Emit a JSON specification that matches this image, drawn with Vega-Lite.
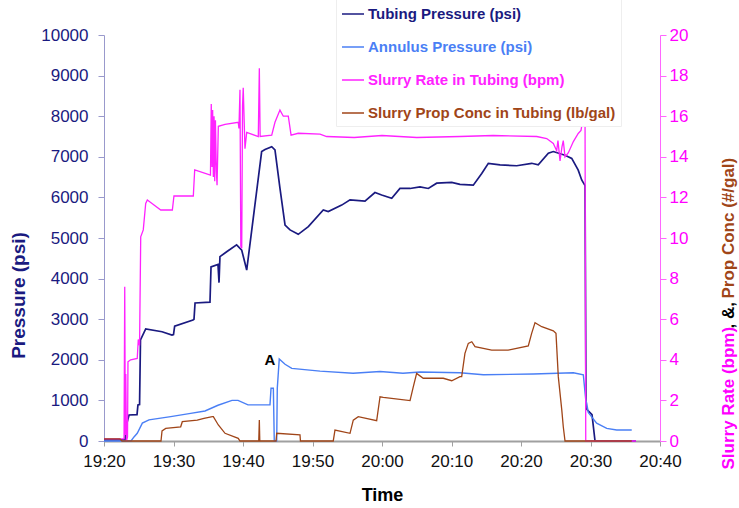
{
  "$schema": "https://vega.github.io/schema/vega-lite/v6.json",
  "width": 556,
  "height": 406,
  "autosize": {"type": "none"},
  "padding": {"left": 104, "top": 35, "right": 79, "bottom": 67},
  "background": "white",
  "config": {"view": {"stroke": null}, "font": "Liberation Sans", "axis": {"grid": false}},
  "layer": [
    {
      "data": {"values": [
        {"t": "2000-01-01T19:20:00", "v": 30}, {"t": "2000-01-01T19:23:01", "v": 30}, {"t": "2000-01-01T19:23:14", "v": 400}, {"t": "2000-01-01T19:23:36", "v": 640},
        {"t": "2000-01-01T19:24:45", "v": 650}, {"t": "2000-01-01T19:24:53", "v": 890}, {"t": "2000-01-01T19:25:07", "v": 900}, {"t": "2000-01-01T19:25:15", "v": 2490},
        {"t": "2000-01-01T19:26:00", "v": 2760}, {"t": "2000-01-01T19:28:21", "v": 2690}, {"t": "2000-01-01T19:29:47", "v": 2610}, {"t": "2000-01-01T19:30:00", "v": 2620},
        {"t": "2000-01-01T19:30:10", "v": 2830}, {"t": "2000-01-01T19:32:48", "v": 2980}, {"t": "2000-01-01T19:32:57", "v": 3000}, {"t": "2000-01-01T19:33:06", "v": 3400},
        {"t": "2000-01-01T19:35:15", "v": 3420}, {"t": "2000-01-01T19:35:24", "v": 4290}, {"t": "2000-01-01T19:36:24", "v": 4350}, {"t": "2000-01-01T19:36:33", "v": 3900},
        {"t": "2000-01-01T19:36:41", "v": 4540}, {"t": "2000-01-01T19:37:39", "v": 4660}, {"t": "2000-01-01T19:39:05", "v": 4830}, {"t": "2000-01-01T19:39:49", "v": 4700},
        {"t": "2000-01-01T19:40:32", "v": 4210}, {"t": "2000-01-01T19:42:41", "v": 7130}, {"t": "2000-01-01T19:43:10", "v": 7180}, {"t": "2000-01-01T19:44:08", "v": 7250},
        {"t": "2000-01-01T19:44:36", "v": 7170}, {"t": "2000-01-01T19:45:19", "v": 6230}, {"t": "2000-01-01T19:46:03", "v": 5320}, {"t": "2000-01-01T19:46:46", "v": 5200},
        {"t": "2000-01-01T19:47:57", "v": 5090}, {"t": "2000-01-01T19:49:24", "v": 5280}, {"t": "2000-01-01T19:51:33", "v": 5690}, {"t": "2000-01-01T19:52:16", "v": 5650},
        {"t": "2000-01-01T19:54:12", "v": 5810}, {"t": "2000-01-01T19:55:24", "v": 5940}, {"t": "2000-01-01T19:57:33", "v": 5910}, {"t": "2000-01-01T19:58:59", "v": 6120},
        {"t": "2000-01-01T19:59:57", "v": 6060}, {"t": "2000-01-01T20:01:24", "v": 5980}, {"t": "2000-01-01T20:02:35", "v": 6220}, {"t": "2000-01-01T20:04:02", "v": 6220},
        {"t": "2000-01-01T20:05:28", "v": 6260}, {"t": "2000-01-01T20:06:40", "v": 6220}, {"t": "2000-01-01T20:07:52", "v": 6350}, {"t": "2000-01-01T20:10:02", "v": 6370},
        {"t": "2000-01-01T20:11:13", "v": 6320}, {"t": "2000-01-01T20:13:08", "v": 6300}, {"t": "2000-01-01T20:14:21", "v": 6590}, {"t": "2000-01-01T20:15:18", "v": 6840},
        {"t": "2000-01-01T20:16:59", "v": 6800}, {"t": "2000-01-01T20:19:23", "v": 6780}, {"t": "2000-01-01T20:21:32", "v": 6840}, {"t": "2000-01-01T20:22:29", "v": 6800},
        {"t": "2000-01-01T20:23:56", "v": 7090}, {"t": "2000-01-01T20:24:39", "v": 7130}, {"t": "2000-01-01T20:26:20", "v": 7040}, {"t": "2000-01-01T20:27:18", "v": 6960},
        {"t": "2000-01-01T20:28:14", "v": 6670}, {"t": "2000-01-01T20:28:44", "v": 6430}, {"t": "2000-01-01T20:29:13", "v": 6290}, {"t": "2000-01-01T20:29:21", "v": 800},
        {"t": "2000-01-01T20:30:13", "v": 650}, {"t": "2000-01-01T20:30:39", "v": 0}, {"t": "2000-01-01T20:36:33", "v": 0}
      ]},
      "mark": {"type": "line", "strokeWidth": 1.7},
      "encoding": {
        "x": {
          "field": "t", "type": "temporal",
          "scale": {"domain": [{"year": 2000, "month": 1, "date": 1, "hours": 19, "minutes": 20}, {"year": 2000, "month": 1, "date": 1, "hours": 20, "minutes": 40}]},
          "axis": {
            "format": "%H:%M",
            "values": [
              {"year": 2000, "month": 1, "date": 1, "hours": 19, "minutes": 20}, {"year": 2000, "month": 1, "date": 1, "hours": 19, "minutes": 30},
              {"year": 2000, "month": 1, "date": 1, "hours": 19, "minutes": 40}, {"year": 2000, "month": 1, "date": 1, "hours": 19, "minutes": 50},
              {"year": 2000, "month": 1, "date": 1, "hours": 20, "minutes": 0}, {"year": 2000, "month": 1, "date": 1, "hours": 20, "minutes": 10},
              {"year": 2000, "month": 1, "date": 1, "hours": 20, "minutes": 20}, {"year": 2000, "month": 1, "date": 1, "hours": 20, "minutes": 30},
              {"year": 2000, "month": 1, "date": 1, "hours": 20, "minutes": 40}
            ],
            "title": "Time", "titleFontSize": 18, "titleFontWeight": "bold", "titleColor": "#000000",
            "titlePadding": 17,
            "labelFontSize": 17, "labelColor": "#111111", "labelPadding": 7, "labelFlush": false, "labelOverlap": false,
            "tickSize": 5, "tickColor": "#a0a0a0", "domainColor": "#a0a0a0", "domainWidth": 2
          }
        },
        "y": {
          "field": "v", "type": "quantitative",
          "scale": {"domain": [0, 10000]},
          "axis": {
            "orient": "left", "values": [0, 1000, 2000, 3000, 4000, 5000, 6000, 7000, 8000, 9000, 10000], "format": "d",
            "title": "Pressure (psi)", "titleColor": "#1a1a80", "titleFontSize": 19, "titleFontWeight": "bold",
            "titleAngle": 270, "titleX": -86, "titleY": 260, "titleAlign": "center", "titleBaseline": "middle",
            "labelColor": "#1a1a80", "labelFontSize": 17, "labelPadding": 10,
            "tickSize": 6, "tickColor": "#9999cc", "domainColor": "#9999cc"
          }
        },
        "color": {
          "datum": "Tubing Pressure (psi)",
          "scale": {
            "domain": ["Tubing Pressure (psi)", "Annulus Pressure (psi)", "Slurry Rate in Tubing (bpm)", "Slurry Prop Conc in Tubing (lb/gal)"],
            "range": ["#1a1a80", "#4a7ff5", "#ff22ff", "#a04518"]
          },
          "legend": {
            "orient": "none", "legendX": 232, "legendY": -38, "title": null,
            "symbolType": "stroke", "symbolSize": 484, "symbolStrokeWidth": 1.5,
            "labelFontSize": 15, "labelFontWeight": "bold", "labelLimit": 400,
            "rowPadding": 13, "labelOffset": 3, "padding": 5,
            "fillColor": "white", "strokeColor": "#eeeeee",
            "encode": {"labels": {"update": {"fill": {"scale": "color", "field": "value"}}}}
          }
        }
      }
    },
    {
      "data": {"values": [
        {"t": "2000-01-01T19:20:00", "v": 0}, {"t": "2000-01-01T19:23:53", "v": 0}, {"t": "2000-01-01T19:24:19", "v": 100}, {"t": "2000-01-01T19:24:47", "v": 190},
        {"t": "2000-01-01T19:25:31", "v": 440}, {"t": "2000-01-01T19:26:28", "v": 520}, {"t": "2000-01-01T19:29:36", "v": 600}, {"t": "2000-01-01T19:32:28", "v": 680},
        {"t": "2000-01-01T19:34:32", "v": 740}, {"t": "2000-01-01T19:36:24", "v": 880}, {"t": "2000-01-01T19:38:25", "v": 1000}, {"t": "2000-01-01T19:39:17", "v": 1000},
        {"t": "2000-01-01T19:40:43", "v": 890}, {"t": "2000-01-01T19:43:53", "v": 890}, {"t": "2000-01-01T19:44:02", "v": 1300}, {"t": "2000-01-01T19:44:22", "v": 1300},
        {"t": "2000-01-01T19:44:30", "v": 0}, {"t": "2000-01-01T19:44:51", "v": 0}, {"t": "2000-01-01T19:44:56", "v": 1300}, {"t": "2000-01-01T19:45:13", "v": 2020},
        {"t": "2000-01-01T19:46:03", "v": 1890}, {"t": "2000-01-01T19:47:01", "v": 1790}, {"t": "2000-01-01T19:51:05", "v": 1720}, {"t": "2000-01-01T19:55:50", "v": 1670},
        {"t": "2000-01-01T19:59:43", "v": 1710}, {"t": "2000-01-01T20:03:01", "v": 1670}, {"t": "2000-01-01T20:05:28", "v": 1700}, {"t": "2000-01-01T20:11:13", "v": 1680},
        {"t": "2000-01-01T20:14:35", "v": 1630}, {"t": "2000-01-01T20:21:46", "v": 1650}, {"t": "2000-01-01T20:27:32", "v": 1680}, {"t": "2000-01-01T20:28:58", "v": 1630},
        {"t": "2000-01-01T20:29:19", "v": 1010}, {"t": "2000-01-01T20:29:27", "v": 930}, {"t": "2000-01-01T20:29:41", "v": 700}, {"t": "2000-01-01T20:30:53", "v": 440},
        {"t": "2000-01-01T20:32:20", "v": 310}, {"t": "2000-01-01T20:33:46", "v": 270}, {"t": "2000-01-01T20:35:56", "v": 270}
      ]},
      "mark": {"type": "line", "strokeWidth": 1.4},
      "encoding": {
        "x": {"field": "t", "type": "temporal"},
        "y": {
          "field": "v", "type": "quantitative",
          "scale": {"domain": [0, 10000]},
          "axis": {
            "orient": "right", "domain": false, "ticks": false, "labels": false,
            "title": ", &,", "titleColor": "#000000", "titleFontSize": 17, "titleFontWeight": "bold",
            "titleAngle": 270, "titleX": 68, "titleY": 293, "titleAlign": "left", "titleBaseline": "middle"
          }
        },
        "color": {"datum": "Annulus Pressure (psi)"}
      }
    },
    {
      "data": {"values": [
        {"t": "2000-01-01T19:20:00", "v": 0.1}, {"t": "2000-01-01T19:22:53", "v": 0.1}, {"t": "2000-01-01T19:22:59", "v": 7.6}, {"t": "2000-01-01T19:23:04", "v": 0.3},
        {"t": "2000-01-01T19:23:08", "v": 3.3}, {"t": "2000-01-01T19:23:14", "v": 0}, {"t": "2000-01-01T19:23:23", "v": 0.2}, {"t": "2000-01-01T19:23:27", "v": 3.9},
        {"t": "2000-01-01T19:23:50", "v": 4.0}, {"t": "2000-01-01T19:24:47", "v": 4.07}, {"t": "2000-01-01T19:24:56", "v": 5.0}, {"t": "2000-01-01T19:25:07", "v": 4.7},
        {"t": "2000-01-01T19:25:17", "v": 10.06}, {"t": "2000-01-01T19:25:39", "v": 10.4}, {"t": "2000-01-01T19:26:00", "v": 11.7}, {"t": "2000-01-01T19:26:14", "v": 11.87},
        {"t": "2000-01-01T19:27:12", "v": 11.63}, {"t": "2000-01-01T19:28:10", "v": 11.38}, {"t": "2000-01-01T19:29:50", "v": 11.38}, {"t": "2000-01-01T19:30:04", "v": 12.07},
        {"t": "2000-01-01T19:32:51", "v": 12.07}, {"t": "2000-01-01T19:33:03", "v": 13.35}, {"t": "2000-01-01T19:35:19", "v": 13.1}, {"t": "2000-01-01T19:35:26", "v": 16.6},
        {"t": "2000-01-01T19:35:32", "v": 13.5}, {"t": "2000-01-01T19:35:38", "v": 16.3}, {"t": "2000-01-01T19:35:44", "v": 13.0}, {"t": "2000-01-01T19:35:50", "v": 16.0},
        {"t": "2000-01-01T19:35:56", "v": 12.8}, {"t": "2000-01-01T19:36:02", "v": 15.8}, {"t": "2000-01-01T19:36:10", "v": 13.3}, {"t": "2000-01-01T19:36:16", "v": 12.6},
        {"t": "2000-01-01T19:36:27", "v": 15.5}, {"t": "2000-01-01T19:37:25", "v": 15.6}, {"t": "2000-01-01T19:39:19", "v": 15.7}, {"t": "2000-01-01T19:39:25", "v": 15.4},
        {"t": "2000-01-01T19:39:34", "v": 17.3}, {"t": "2000-01-01T19:39:41", "v": 9.6}, {"t": "2000-01-01T19:39:49", "v": 9.5}, {"t": "2000-01-01T19:39:56", "v": 16.5},
        {"t": "2000-01-01T19:40:02", "v": 17.4}, {"t": "2000-01-01T19:40:17", "v": 14.4}, {"t": "2000-01-01T19:40:32", "v": 15.2}, {"t": "2000-01-01T19:42:12", "v": 15.0},
        {"t": "2000-01-01T19:42:21", "v": 18.36}, {"t": "2000-01-01T19:42:28", "v": 15.0}, {"t": "2000-01-01T19:44:08", "v": 15.07}, {"t": "2000-01-01T19:44:36", "v": 15.7},
        {"t": "2000-01-01T19:45:19", "v": 16.3}, {"t": "2000-01-01T19:45:48", "v": 16.0}, {"t": "2000-01-01T19:46:31", "v": 16.0}, {"t": "2000-01-01T19:46:55", "v": 15.07},
        {"t": "2000-01-01T19:47:57", "v": 15.16}, {"t": "2000-01-01T19:51:05", "v": 15.12}, {"t": "2000-01-01T19:52:02", "v": 15.0}, {"t": "2000-01-01T19:56:00", "v": 14.95},
        {"t": "2000-01-01T20:00:00", "v": 15.05}, {"t": "2000-01-01T20:05:00", "v": 14.95}, {"t": "2000-01-01T20:11:13", "v": 15.0}, {"t": "2000-01-01T20:16:00", "v": 15.05},
        {"t": "2000-01-01T20:22:16", "v": 15.0}, {"t": "2000-01-01T20:23:42", "v": 14.9}, {"t": "2000-01-01T20:24:39", "v": 14.66}, {"t": "2000-01-01T20:25:08", "v": 14.3},
        {"t": "2000-01-01T20:25:19", "v": 14.8}, {"t": "2000-01-01T20:25:37", "v": 13.8}, {"t": "2000-01-01T20:25:54", "v": 14.5}, {"t": "2000-01-01T20:26:05", "v": 14.8},
        {"t": "2000-01-01T20:26:20", "v": 14.0}, {"t": "2000-01-01T20:26:49", "v": 14.2}, {"t": "2000-01-01T20:27:32", "v": 14.75}, {"t": "2000-01-01T20:28:14", "v": 15.15},
        {"t": "2000-01-01T20:28:38", "v": 15.3}, {"t": "2000-01-01T20:28:44", "v": 15.5}, {"t": "2000-01-01T20:29:13", "v": 15.5}, {"t": "2000-01-01T20:29:19", "v": 0},
        {"t": "2000-01-01T20:36:33", "v": 0}
      ]},
      "mark": {"type": "line", "strokeWidth": 1.3},
      "encoding": {
        "x": {"field": "t", "type": "temporal"},
        "y": {
          "field": "v", "type": "quantitative",
          "scale": {"domain": [0, 20]},
          "axis": {
            "orient": "right", "values": [0, 2, 4, 6, 8, 10, 12, 14, 16, 18, 20],
            "title": "Slurry Rate (bpm)", "titleColor": "#ff00ff", "titleFontSize": 17, "titleFontWeight": "bold",
            "titleAngle": 270, "titleX": 68, "titleY": 434, "titleAlign": "left", "titleBaseline": "middle",
            "labelColor": "#ff00ff", "labelFontSize": 17, "labelPadding": 3,
            "tickSize": 6, "tickColor": "#ff66ff", "domainColor": "#ff66ff"
          }
        },
        "color": {"datum": "Slurry Rate in Tubing (bpm)"}
      }
    },
    {
      "data": {"values": [
        {"t": "2000-01-01T19:20:00", "v": 0.1}, {"t": "2000-01-01T19:22:18", "v": 0.1}, {"t": "2000-01-01T19:22:35", "v": 0}, {"t": "2000-01-01T19:28:12", "v": 0},
        {"t": "2000-01-01T19:28:21", "v": 0.5}, {"t": "2000-01-01T19:28:53", "v": 0.62}, {"t": "2000-01-01T19:31:02", "v": 0.7}, {"t": "2000-01-01T19:31:16", "v": 0.95},
        {"t": "2000-01-01T19:33:25", "v": 1.03}, {"t": "2000-01-01T19:34:23", "v": 1.12}, {"t": "2000-01-01T19:35:35", "v": 1.2}, {"t": "2000-01-01T19:35:44", "v": 1.2},
        {"t": "2000-01-01T19:36:27", "v": 0.79}, {"t": "2000-01-01T19:37:25", "v": 0.38}, {"t": "2000-01-01T19:39:19", "v": 0.13}, {"t": "2000-01-01T19:39:34", "v": 0},
        {"t": "2000-01-01T19:42:16", "v": 0}, {"t": "2000-01-01T19:42:21", "v": 1.03}, {"t": "2000-01-01T19:42:25", "v": 0}, {"t": "2000-01-01T19:44:45", "v": 0},
        {"t": "2000-01-01T19:44:51", "v": 0.38}, {"t": "2000-01-01T19:48:12", "v": 0.3}, {"t": "2000-01-01T19:48:16", "v": 0}, {"t": "2000-01-01T19:52:59", "v": 0},
        {"t": "2000-01-01T19:53:14", "v": 0.54}, {"t": "2000-01-01T19:55:24", "v": 0.38}, {"t": "2000-01-01T19:55:52", "v": 1.03}, {"t": "2000-01-01T19:56:35", "v": 1.2},
        {"t": "2000-01-01T19:59:14", "v": 1.0}, {"t": "2000-01-01T19:59:43", "v": 2.18}, {"t": "2000-01-01T20:00:11", "v": 2.15}, {"t": "2000-01-01T20:04:02", "v": 1.99},
        {"t": "2000-01-01T20:04:30", "v": 2.67}, {"t": "2000-01-01T20:04:59", "v": 3.33}, {"t": "2000-01-01T20:05:56", "v": 3.09}, {"t": "2000-01-01T20:08:49", "v": 3.09},
        {"t": "2000-01-01T20:10:02", "v": 2.97}, {"t": "2000-01-01T20:11:13", "v": 3.17}, {"t": "2000-01-01T20:11:28", "v": 3.17}, {"t": "2000-01-01T20:11:56", "v": 4.32},
        {"t": "2000-01-01T20:12:25", "v": 4.81}, {"t": "2000-01-01T20:12:55", "v": 4.89}, {"t": "2000-01-01T20:13:23", "v": 4.65}, {"t": "2000-01-01T20:15:47", "v": 4.48},
        {"t": "2000-01-01T20:18:10", "v": 4.48}, {"t": "2000-01-01T20:21:03", "v": 4.68}, {"t": "2000-01-01T20:21:32", "v": 5.3}, {"t": "2000-01-01T20:22:01", "v": 5.83},
        {"t": "2000-01-01T20:22:59", "v": 5.63}, {"t": "2000-01-01T20:24:39", "v": 5.43}, {"t": "2000-01-01T20:25:02", "v": 5.3}, {"t": "2000-01-01T20:25:22", "v": 3.17},
        {"t": "2000-01-01T20:25:52", "v": 1.53}, {"t": "2000-01-01T20:26:05", "v": 0.7}, {"t": "2000-01-01T20:26:20", "v": 0}, {"t": "2000-01-01T20:35:56", "v": 0}
      ]},
      "mark": {"type": "line", "strokeWidth": 1.3},
      "encoding": {
        "x": {"field": "t", "type": "temporal"},
        "y": {
          "field": "v", "type": "quantitative",
          "scale": {"domain": [0, 20]},
          "axis": {
            "orient": "right", "domain": false, "ticks": false, "labels": false,
            "title": "Prop Conc (#/gal)", "titleColor": "#a04518", "titleFontSize": 17, "titleFontWeight": "bold",
            "titleAngle": 270, "titleX": 68, "titleY": 263, "titleAlign": "left", "titleBaseline": "middle"
          }
        },
        "color": {"datum": "Slurry Prop Conc in Tubing (lb/gal)"}
      }
    },
    {
      "data": {"values": [{"t": "2000-01-01T19:43:53", "v": 1990, "label": "A"}]},
      "mark": {"type": "text", "fontSize": 15, "fontWeight": "bold", "color": "#000000", "align": "center", "baseline": "middle"},
      "encoding": {
        "x": {"field": "t", "type": "temporal"},
        "y": {"field": "v", "type": "quantitative", "scale": {"domain": [0, 10000]}, "axis": null},
        "text": {"field": "label"}
      }
    }
  ],
  "resolve": {"scale": {"y": "independent"}}
}
